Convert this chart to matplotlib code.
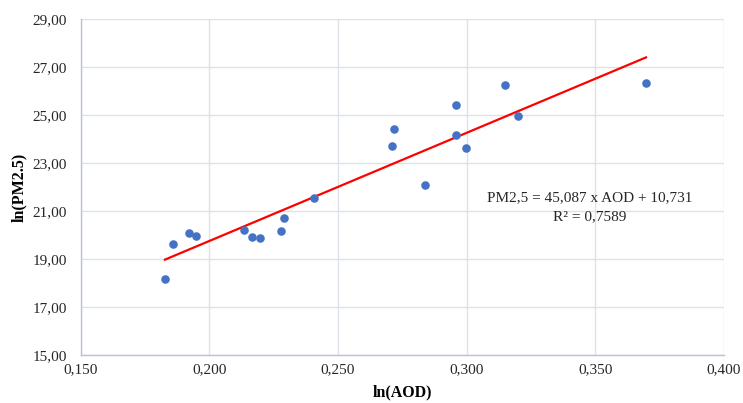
import numpy as np
import matplotlib
matplotlib.use("Agg")
import matplotlib.pyplot as plt
from matplotlib.ticker import FuncFormatter

# data (ln(AOD), ln(PM2.5))
aod = [0.1828, 0.1859, 0.1920, 0.1950, 0.2136, 0.2167, 0.2199, 0.2279, 0.2291,
       0.2407, 0.2709, 0.2719, 0.2837, 0.2958, 0.2958, 0.2998, 0.3149, 0.3201, 0.3697]
pm25 = [18.18, 19.61, 20.10, 19.97, 20.20, 19.93, 19.86, 20.16, 20.70,
        21.55, 23.72, 24.43, 22.10, 25.42, 24.18, 23.63, 26.24, 24.97, 26.35]

# trendline coefficients as printed on the chart
slope = 45.087
intercept = 10.731
r2 = 0.7589

x_ticks = [0.150, 0.200, 0.250, 0.300, 0.350, 0.400]
y_ticks = [15, 17, 19, 21, 23, 25, 27, 29]

plt.rcParams['font.family'] = ['Liberation Serif', 'DejaVu Serif']

fig = plt.figure(figsize=(7.43, 4.03), dpi=100)
ax = fig.add_axes([80.5 / 743, 1 - 355 / 403, (724 - 80.5) / 743, (355 - 19) / 403])

ax.scatter(aod, pm25, s=38, color='#4472C4', zorder=3, linewidths=0)

xl = np.array([min(aod), max(aod)])
ax.plot(xl, slope * xl + intercept, color='#FF0000', lw=1.6, zorder=2)

ax.set_xlim(0.150, 0.400)
ax.set_ylim(15, 29)
ax.set_xticks(x_ticks)
ax.set_yticks(y_ticks)
ax.xaxis.set_major_formatter(FuncFormatter(lambda v, p: '{:.3f}'.format(v).replace('.', ',')))
ax.yaxis.set_major_formatter(FuncFormatter(lambda v, p: '{:.2f}'.format(v).replace('.', ',')))
ax.tick_params(length=0, labelsize=11, colors='#262626')
ax.tick_params(axis='x', pad=6)
ax.tick_params(axis='y', pad=10)

ax.grid(True, color='#DDE1E8', lw=1.0)
ax.set_axisbelow(True)
for s in ['top', 'right']:
    ax.spines[s].set_visible(False)
for s in ['left', 'bottom']:
    ax.spines[s].set_color('#B8C2D4')
    ax.spines[s].set_linewidth(1.0)

ax.set_xlabel('ln(AOD)', fontsize=11.5, fontweight='bold', labelpad=6)
ax.set_ylabel('ln(PM2.5)', fontsize=11.5, fontweight='bold', labelpad=4)

eq = 'PM2,5 = {} x AOD + {}'.format(str(slope).replace('.', ','), str(intercept).replace('.', ','))
ax.text(0.3479, 21.54, eq, ha='center', va='center', fontsize=11, color='#262626')
ax.text(0.3479, 20.75, 'R² = ' + str(r2).replace('.', ','), ha='center', va='center',
        fontsize=11, color='#262626')

fig.savefig('out.png', dpi=100)
